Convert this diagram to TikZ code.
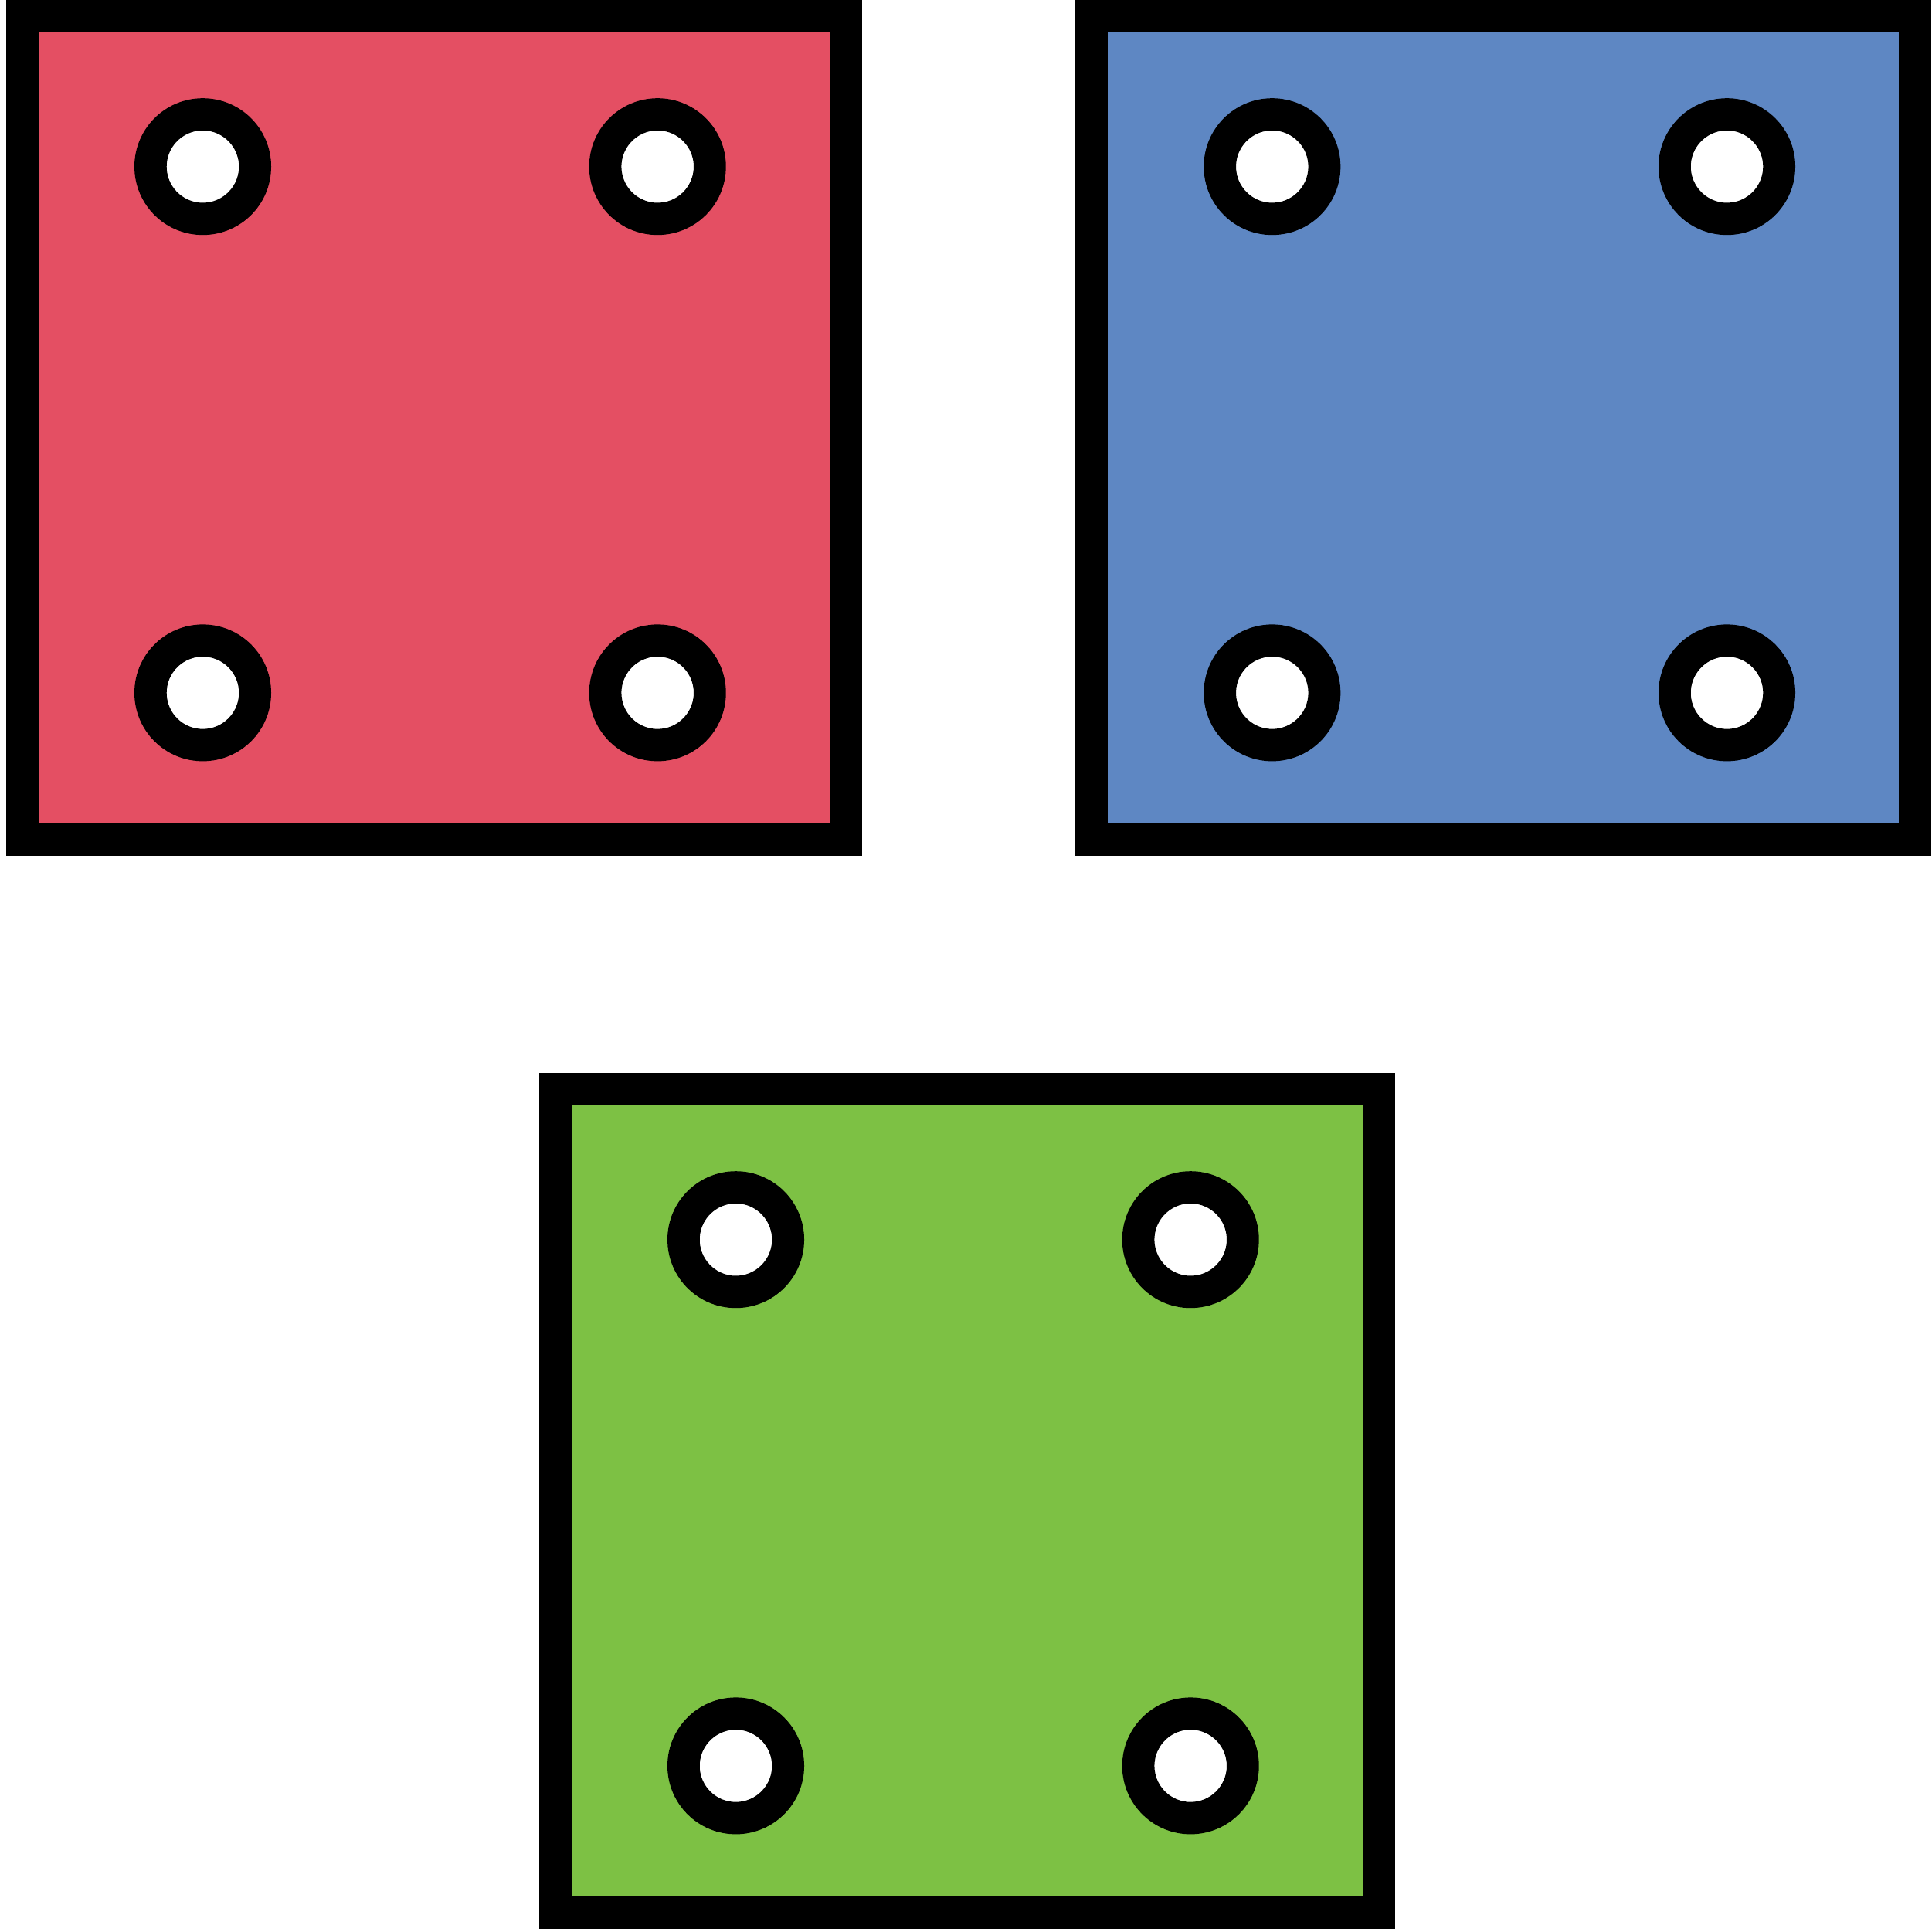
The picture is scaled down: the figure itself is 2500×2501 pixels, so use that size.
\documentclass[tikz,border=0pt]{standalone}
\usepackage{tikz}
\usepackage{xcolor}
\usetikzlibrary{positioning}
\definecolor{platered}{HTML}{E44F63}
\definecolor{plateblue}{HTML}{5E87C3}
\definecolor{plategreen}{HTML}{7DC144}
\tikzset{
  plate/.style={draw=black, line width=4.2mm, minimum width=10.65cm,
                minimum height=10.65cm, inner sep=0pt},
  hole/.style={circle, draw=black, fill=white, line width=4.17mm,
               minimum size=1.352cm, inner sep=0pt}
}
\begin{document}
\begin{tikzpicture}[x=0.01cm,y=-0.01cm]
        \useasboundingbox (0,0) rectangle (2500,2501);
        % three plates
        \node[plate,fill=platered]   (red)   at (561.7,554) {};
        \node[plate,fill=plateblue]  (blue)  at (1946,554) {};
        \node[plate,fill=plategreen] (green) at (1251.7,1943) {};
        % four holes in each plate
        \foreach \nm/\px/\py in {red-tl/262.5/215.7, red-tr/851.2/215.7,
                                 red-bl/262.5/896.9, red-br/851.2/896.9,
                                 blue-tl/1646.8/215.7, blue-tr/2235.5/215.7,
                                 blue-bl/1646.8/896.9, blue-br/2235.5/896.9,
                                 green-tl/952.5/1604.7, green-tr/1541.2/1604.7,
                                 green-bl/952.5/2285.9, green-br/1541.2/2285.9}
          \node[hole] (\nm) at (\px,\py) {};
      \end{tikzpicture}
\end{document}
